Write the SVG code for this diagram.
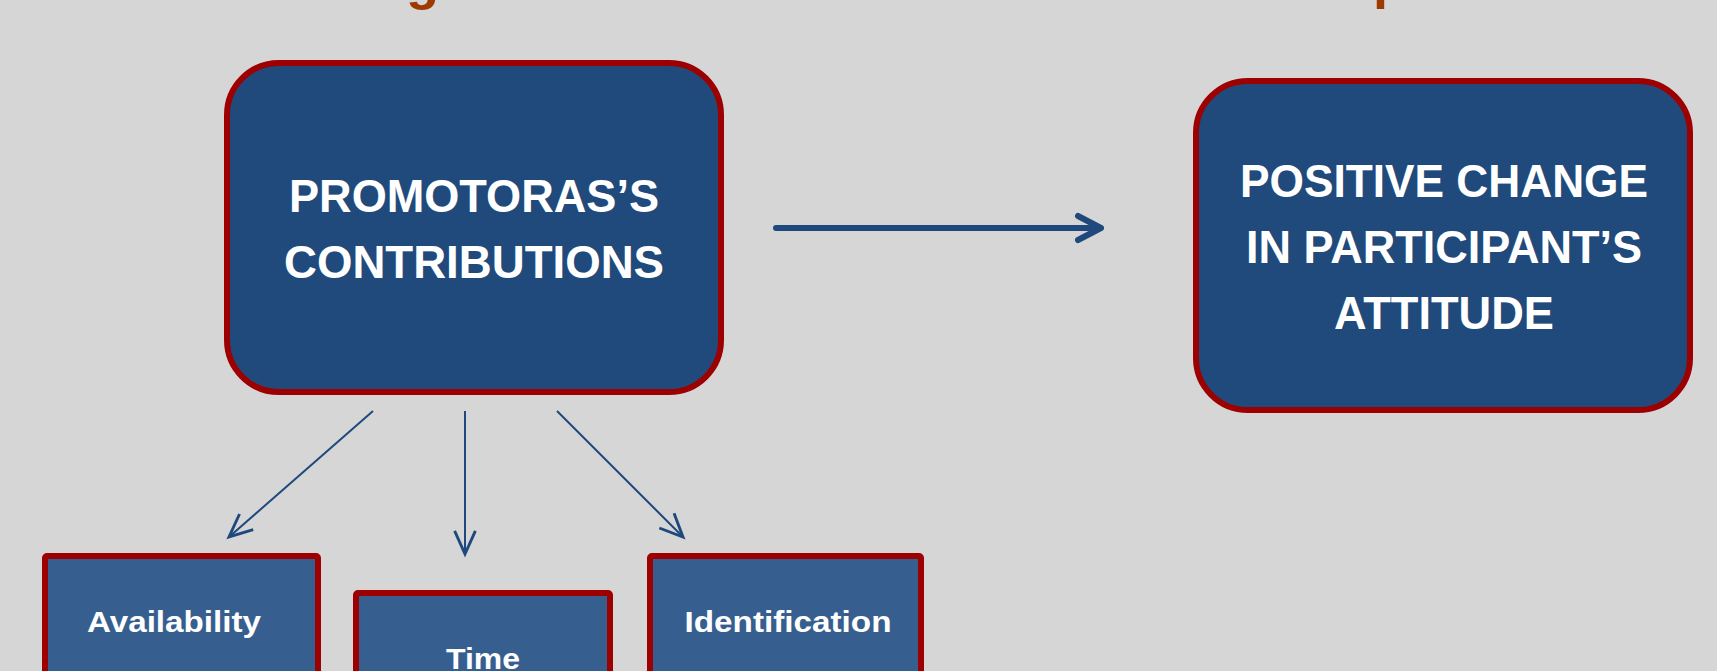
<svg xmlns="http://www.w3.org/2000/svg" width="1717" height="671" viewBox="0 0 1717 671">
<defs>
<style>
.big{fill:#214a7c;stroke:#9c0000;stroke-width:6}
.small{fill:#365f8f;stroke:#9c0000;stroke-width:6}
.bt{font-family:"Liberation Sans",Arial,sans-serif;font-weight:bold;font-size:47px;fill:#ffffff;text-anchor:middle}
.st{font-family:"Liberation Sans",Arial,sans-serif;font-weight:bold;font-size:30px;fill:#ffffff;text-anchor:middle}
.ttl{font-family:"Liberation Sans",Arial,sans-serif;font-weight:bold;font-size:54px;fill:#9c3a00}
.thin{stroke:#1f497d;stroke-width:2;fill:none}
</style>
<marker id="oh" markerUnits="userSpaceOnUse" markerWidth="30" markerHeight="30" viewBox="-22 -12 26 24" refX="0" refY="0" orient="auto">
<path d="M-20,-9 L0,0 L-20,9" fill="none" stroke="#1f497d" stroke-width="2.5"/>
</marker>
</defs>
<rect width="1717" height="671" fill="#d6d6d6"/>
<text class="ttl" x="406" y="-1">g</text>
<text class="ttl" x="1373" y="-2">p</text>
<g id="promotoras">
<rect class="big" x="227" y="63" width="494" height="329" rx="52"/>
<text class="bt" x="474" y="212" textLength="370" lengthAdjust="spacingAndGlyphs">PROMOTORAS’S</text>
<text class="bt" x="474" y="278" textLength="380" lengthAdjust="spacingAndGlyphs">CONTRIBUTIONS</text>
</g>
<g id="positive">
<rect class="big" x="1196" y="81" width="494" height="329" rx="52"/>
<text class="bt" x="1444" y="197" textLength="408" lengthAdjust="spacingAndGlyphs">POSITIVE CHANGE</text>
<text class="bt" x="1444" y="263" textLength="396" lengthAdjust="spacingAndGlyphs">IN PARTICIPANT’S</text>
<text class="bt" x="1444" y="329" textLength="220" lengthAdjust="spacingAndGlyphs">ATTITUDE</text>
</g>
<g id="availability">
<rect class="small" x="45" y="556" width="273" height="140" rx="2"/>
<text class="st" x="174" y="632" textLength="174" lengthAdjust="spacingAndGlyphs">Availability</text>
</g>
<g id="time">
<rect class="small" x="356" y="593" width="254" height="110" rx="2"/>
<text class="st" x="483" y="669" textLength="74" lengthAdjust="spacingAndGlyphs">Time</text>
</g>
<g id="identification">
<rect class="small" x="650" y="556" width="271" height="140" rx="2"/>
<text class="st" x="788" y="632" textLength="207" lengthAdjust="spacingAndGlyphs">Identification</text>
</g>
<g id="connectors">
<path d="M776,228 L1101,228 M1078,216 L1101,228 L1078,240" fill="none" stroke="#1f497d" stroke-width="6" stroke-linecap="round" stroke-linejoin="round"/>
<line class="thin" x1="373" y1="411" x2="229" y2="537" marker-end="url(#oh)"/>
<line class="thin" x1="465" y1="411" x2="465" y2="554" marker-end="url(#oh)"/>
<line class="thin" x1="557" y1="411" x2="683" y2="537" marker-end="url(#oh)"/>
</g>
</svg>
